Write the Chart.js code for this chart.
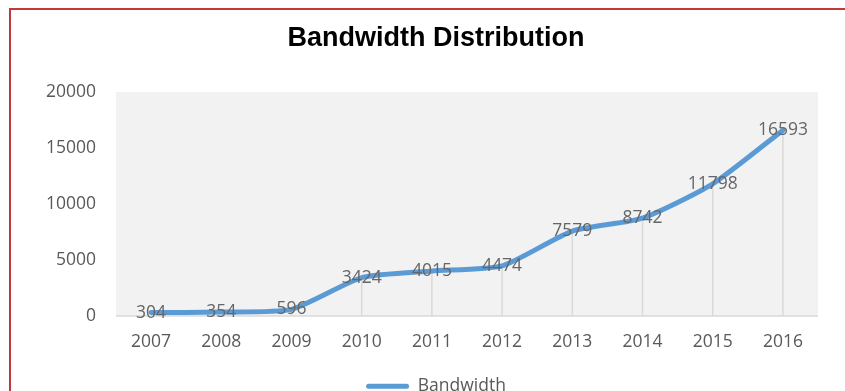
<!DOCTYPE html>
<html>
<head>
<meta charset="utf-8">
<script src="https://cdn.jsdelivr.net/npm/chart.js@4/dist/chart.umd.min.js"></script>
<style>
  html, body { margin: 0; padding: 0; background: #fff; overflow: hidden; }
  #wrap { position: relative; width: 845px; height: 391px; overflow: hidden; }
  #frame { position: absolute; left: 9px; top: 8px; width: 900px; height: 500px;
           border-left: 2px solid #c0393b; border-top: 2px solid #c0393b; }
  canvas { position: absolute; left: 0; top: 0; }
</style>
</head>
<body>
<div id="wrap">
  <div id="frame"></div>
  <canvas id="chart" width="845" height="405"></canvas>
</div>
<script>
const years = ['2007', '2008', '2009', '2010', '2011', '2012', '2013', '2014', '2015', '2016'];
const bandwidth = [304, 354, 596, 3424, 4015, 4474, 7579, 8742, 11798, 16593];
const yTicks = [0, 5000, 10000, 15000, 20000];

const textFont = "'Open Sans', sans-serif";
const textGray = '#595959';
const lineBlue = '#5b9bd5';

// gray plot background, drop lines, axis line and value labels
const plotDecor = {
  id: 'plotDecor',
  beforeDatasetsDraw(chart) {
    const { ctx, chartArea: a, scales } = chart;
    ctx.save();
    ctx.fillStyle = '#f2f2f2';
    ctx.fillRect(a.left, a.top, a.right - a.left, a.bottom - a.top);

    ctx.strokeStyle = '#d9d9d9';
    ctx.lineWidth = 1.5;
    const base = scales.y.getPixelForValue(0);
    chart.getDatasetMeta(0).data.forEach(pt => {
      ctx.beginPath();
      ctx.moveTo(pt.x, pt.y);
      ctx.lineTo(pt.x, base);
      ctx.stroke();
    });

    ctx.beginPath();
    ctx.moveTo(a.left, base);
    ctx.lineTo(a.right, base);
    ctx.stroke();
    ctx.restore();
  },
  afterDatasetsDraw(chart) {
    const { ctx } = chart;
    const ds = chart.data.datasets[0];
    ctx.save();
    ctx.font = '17.5px ' + textFont;
    ctx.fillStyle = '#666';
    ctx.textAlign = 'center';
    ctx.textBaseline = 'middle';
    chart.getDatasetMeta(0).data.forEach((pt, i) => {
      ctx.fillText(String(ds.data[i]), pt.x, pt.y);
    });
    ctx.restore();
  }
};

new Chart(document.getElementById('chart'), {
  type: 'line',
  data: {
    labels: years,
    datasets: [{
      label: 'Bandwidth',
      data: bandwidth,
      borderColor: lineBlue,
      backgroundColor: lineBlue,
      borderWidth: 5,
      borderCapStyle: 'round',
      borderJoinStyle: 'round',
      pointRadius: 0,
      tension: 0.2,
      fill: false
    }]
  },
  options: {
    responsive: false,
    animation: false,
    layout: { padding: { left: 27, right: 0, top: 0, bottom: 0 } },
    plugins: {
      tooltip: { enabled: false },
      title: {
        display: true,
        text: 'Bandwidth Distribution',
        color: '#000',
        font: { family: "'Liberation Sans', Arial, sans-serif", size: 27, weight: 'bold', lineHeight: 1.2 },
        padding: { top: 22, bottom: 37.6 }
      },
      legend: {
        position: 'bottom',
        labels: {
          color: textGray,
          font: { family: textFont, size: 17.5 },
          boxWidth: 43,
          boxHeight: 5,
          padding: 8.5,
          useBorderRadius: true,
          borderRadius: 2.5,
          generateLabels(chart) {
            return Chart.defaults.plugins.legend.labels.generateLabels(chart).map(l => {
              l.lineWidth = 0;
              l.fillStyle = lineBlue;
              return l;
            });
          }
        }
      }
    },
    scales: {
      x: {
        offset: true,
        grid: { display: false, drawTicks: false },
        border: { display: false },
        ticks: {
          color: textGray,
          font: { family: textFont, size: 17.5 },
          padding: 16,
          maxRotation: 0
        }
      },
      y: {
        min: 0,
        max: 20000,
        afterBuildTicks(scale) {
          scale.ticks = yTicks.map(v => ({ value: v }));
        },
        afterFit(scale) { scale.width = 89; },
        grid: { display: false, drawTicks: false },
        border: { display: false },
        ticks: {
          color: textGray,
          font: { family: textFont, size: 17.5 },
          padding: 20,
          callback: v => String(v)
        }
      },
      // empty right-hand margin
      yRight: {
        position: 'right',
        display: true,
        grid: { display: false, drawTicks: false },
        border: { display: false },
        ticks: { display: false },
        afterFit(scale) { scale.width = 27; }
      }
    }
  },
  plugins: [plotDecor]
});
</script>
</body>
</html>
